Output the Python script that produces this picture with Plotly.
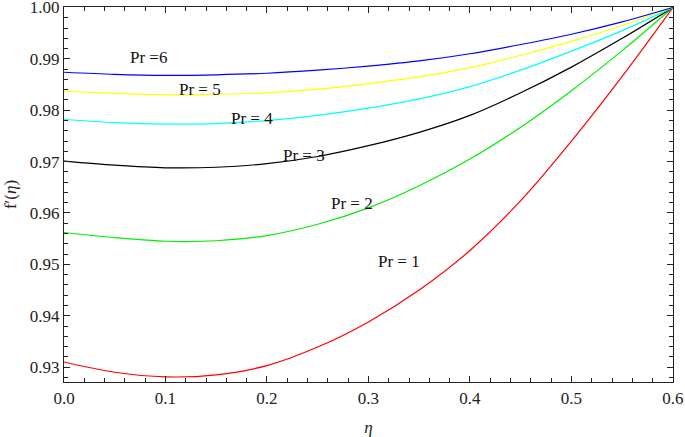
import plotly.graph_objects as go

eta = [0.0, 0.05, 0.1, 0.15, 0.2, 0.25, 0.3, 0.35, 0.4, 0.45, 0.5, 0.55, 0.6]

pr1 = [0.9310, 0.9290, 0.9281, 0.9285, 0.9303, 0.9339, 0.9388, 0.9450, 0.9527, 0.9624, 0.9740, 0.9866, 1.0000]
pr2 = [0.9562, 0.9552, 0.9545, 0.9546, 0.9556, 0.9578, 0.9610, 0.9653, 0.9705, 0.9767, 0.9838, 0.9916, 1.0000]
pr3 = [0.9701, 0.9693, 0.9688, 0.9689, 0.9696, 0.9710, 0.9731, 0.9757, 0.9790, 0.9834, 0.9884, 0.9940, 1.0000]
pr4 = [0.9782, 0.9776, 0.9773, 0.9774, 0.9780, 0.9790, 0.9804, 0.9822, 0.9846, 0.9878, 0.9915, 0.9955, 1.0000]
pr5 = [0.9837, 0.9833, 0.9830, 0.9831, 0.9834, 0.9841, 0.9852, 0.9865, 0.9883, 0.9907, 0.9934, 0.9965, 1.0000]
pr6 = [0.9874, 0.9870, 0.9868, 0.9869, 0.9872, 0.9878, 0.9886, 0.9896, 0.9910, 0.9928, 0.9948, 0.9972, 1.0000]

series = [
    ("Pr = 1", pr1, "#ff0000"),
    ("Pr = 2", pr2, "#00ee00"),
    ("Pr = 3", pr3, "#000000"),
    ("Pr = 4", pr4, "#00ffff"),
    ("Pr = 5", pr5, "#ffff00"),
    ("Pr = 6", pr6, "#0000ff"),
]

label_text = ["Pr = 1", "Pr = 2", "Pr = 3", "Pr = 4", "Pr = 5", "Pr =6"]
label_x = [0.330, 0.2834, 0.2365, 0.1857, 0.134, 0.0835]
label_y = [0.9506, 0.9618, 0.9712, 0.9783, 0.9840, 0.9903]

FONT = "Times New Roman"
INK = "#222222"

fig = go.Figure()
for name, vals, col in series:
    fig.add_trace(go.Scatter(x=eta, y=vals, mode="lines", name=name,
                             line=dict(color=col, width=1.2, shape="spline", smoothing=0.9),
                             showlegend=False, hoverinfo="skip"))

for t, lx, ly in zip(label_text, label_x, label_y):
    fig.add_annotation(x=lx, y=ly, xref="x", yref="y", text=t, showarrow=False,
                       font=dict(family=FONT, size=17, color="#111111"))

def axis_common():
    return dict(
        showline=True, linecolor=INK, linewidth=1.2, mirror="ticks",
        ticks="inside", ticklen=6, tickwidth=1, tickcolor=INK,
        showgrid=False, zeroline=False, ticklabeloverflow="allow",
        tickfont=dict(family=FONT, size=17, color=INK),
    )

fig.update_xaxes(range=[0, 0.6001], tick0=0, dtick=0.1, tickformat=".1f",
                 minor=dict(ticks="inside", ticklen=3.5, dtick=0.02, tickcolor=INK, tickwidth=1),
                 title=dict(text="<i>η</i>", font=dict(family=FONT, size=17, color=INK), standoff=16),
                 **axis_common())
fig.update_yaxes(range=[0.9271, 1.0001], tick0=0.93, dtick=0.01, tickformat=".2f",
                 minor=dict(ticks="inside", ticklen=3.5, dtick=0.002, tickcolor=INK, tickwidth=1),
                 title=dict(text="f′(<i>η</i>)", font=dict(family=FONT, size=17, color=INK), standoff=8),
                 **axis_common())

fig.update_layout(
    width=685, height=437,
    margin=dict(l=64, r=12, t=7, b=55, autoexpand=False),
    paper_bgcolor="white", plot_bgcolor="white",
    font=dict(family=FONT, size=17, color=INK),
)

fig.write_html("out.html", config={"displayModeBar": False},
               post_script="document.body.style.margin='0';document.body.style.overflow='hidden';")
